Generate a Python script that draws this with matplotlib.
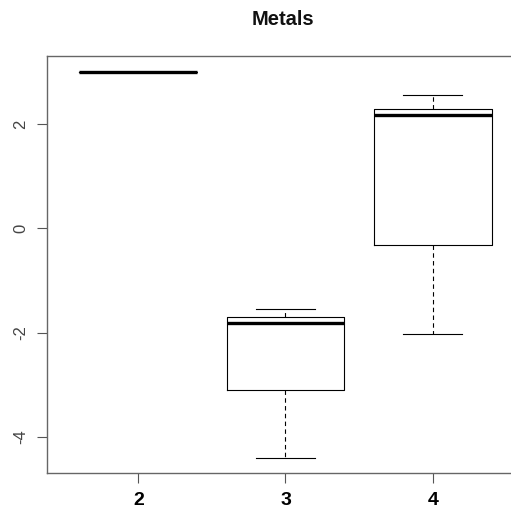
import matplotlib
matplotlib.use("Agg")
import matplotlib.pyplot as plt

categories = ["2", "3", "4"]
medians = [3.0, -1.82, 2.17]
q1 = [3.0, -3.10, -0.33]
q3 = [3.0, -1.70, 2.28]
whislo = [3.0, -4.41, -2.03]
whishi = [3.0, -1.55, 2.55]
yticks = [-4, -2, 0, 2]

plt.rcParams['font.family'] = ['Liberation Sans', 'DejaVu Sans']

W = H = 511
fig = plt.figure(figsize=(W / 100, H / 100), dpi=100)
left, right, top, bottom = 47, 524, 56, 473
ax = fig.add_axes([left / W, 1 - bottom / H, (right - left) / W, (bottom - top) / H])

stats = []
for i, c in enumerate(categories):
    stats.append(dict(label=c, med=medians[i], q1=q1[i], q3=q3[i],
                      whislo=whislo[i], whishi=whishi[i], fliers=[]))

positions = list(range(1, len(categories) + 1))
ax.bxp(stats, positions=positions, widths=0.8, showfliers=False,
       boxprops=dict(color='black', linewidth=0.8),
       whiskerprops=dict(color='black', linewidth=0.8, linestyle=(0, (4, 3))),
       capprops=dict(color='black', linewidth=0.8),
       medianprops=dict(color='black', linewidth=2.4, solid_capstyle='butt'),
       capwidths=0.4)

ax.set_xlim(0.38, 3.62)
ax.set_ylim(-4.69, 3.30)
ax.set_yticks(yticks)
ax.set_yticklabels([str(v) for v in yticks], rotation=90, va='center',
                   fontsize=12, color='#444444')
ax.set_xticks(positions)
ax.set_xticklabels(categories, fontsize=14, fontweight='bold', color='black')
ax.tick_params(axis='both', length=7.5, width=0.8, color='#555555')
ax.tick_params(axis='y', pad=6)
ax.tick_params(axis='x', pad=6)
for s in ax.spines.values():
    s.set_color('#666666')
    s.set_linewidth(1.0)

fig.text(283 / W, 1 - 19 / H, "Metals", ha='center', va='center',
         fontsize=14.5, fontweight='bold', color='#111111')

fig.savefig("out.png", dpi=100)
